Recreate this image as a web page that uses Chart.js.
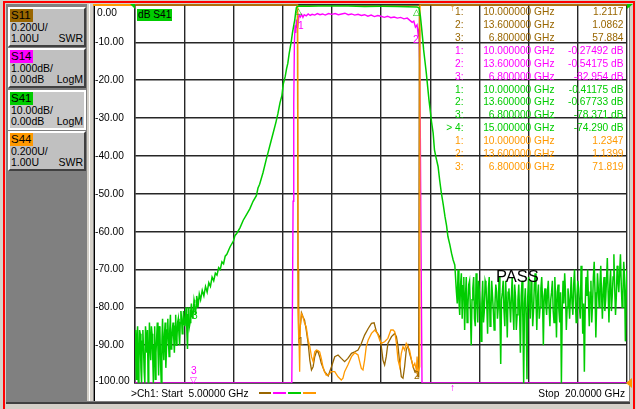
<!DOCTYPE html>
<html>
<head>
<meta charset="utf-8">
<script src="https://cdn.jsdelivr.net/npm/chart.js@4.4.1/dist/chart.umd.min.js"></script>
<style>
  html, body { margin: 0; padding: 0; }
  html { overflow: hidden; background: #d4d0c8; }
  body { width: 636px; height: 409px; overflow: hidden; position: relative; background: #d4d0c8;
         font-family: "Liberation Sans", Arial, sans-serif; font-size: 10.2px; color: #000; }
  .abs { position: absolute; }
  .red { position: absolute; background: #ff0000; }
  #panel { left: 6px; top: 4px; width: 81px; height: 397px; background: #808080; }
  .btn { position: absolute; left: 2px; width: 78px; height: 40px; box-sizing: border-box; background: #c0c0c0;
         border-top: 2px solid #ffffff; border-left: 2px solid #ffffff; border-right: 2px solid #404040; border-bottom: 2px solid #404040; }
  .btn.active { border: 2px solid #ffffff; background: #c8c8c8; }
  .badge { position: absolute; left: 0; top: 0; width: 23px; height: 13px; font-size: 11.5px; line-height: 13px; text-indent: 1px; }
  .l2 { position: absolute; left: 1px; top: 12px; font-size: 10.5px; line-height: 12px; }
  .l3 { position: absolute; left: 1px; top: 23px; font-size: 10.5px; line-height: 12px; }
  .fmt { position: absolute; right: 1px; top: 23px; font-size: 10.5px; line-height: 12px; }
  #plotbg { left: 95px; top: 4px; width: 534px; height: 397px; background: #ffffff; }
  #wrap { left: 93px; top: 0px; width: 543px; height: 402px; }
  .txt { position: absolute; white-space: pre; line-height: 12px; }
</style>
</head>
<body>
<div class="red" style="left:3px;top:1px;width:632px;height:2px"></div>
<div class="red" style="left:3px;top:1px;width:2px;height:408px"></div>
<div class="red" style="left:633px;top:1px;width:2px;height:408px"></div>
<div id="panel" class="abs">
  <div class="btn" style="top:3px"><div class="badge" style="background:#996600">S11</div><div class="l2">0.200U/</div><div class="l3">1.00U</div><div class="fmt">SWR</div></div>
  <div class="btn" style="top:44px"><div class="badge" style="background:#ff00ff">S14</div><div class="l2">1.000dB/</div><div class="l3">0.00dB</div><div class="fmt">LogM</div></div>
  <div class="btn active" style="top:86px"><div class="badge" style="background:#00cc00">S41</div><div class="l2">10.00dB/</div><div class="l3">0.00dB</div><div class="fmt">LogM</div></div>
  <div class="btn" style="top:127px"><div class="badge" style="background:#ff9900">S44</div><div class="l2">0.200U/</div><div class="l3">1.00U</div><div class="fmt">SWR</div></div>
</div>
<div class="abs" style="left:89px;top:4px;width:1px;height:398px;background:#ffffff"></div>
<div class="abs" style="left:93px;top:4px;width:1px;height:398px;background:#808080"></div>
<div class="abs" style="left:94px;top:4px;width:1px;height:398px;background:#000000"></div>
<div id="plotbg" class="abs"></div>
<div class="abs" style="left:629px;top:4px;width:1px;height:398px;background:#808080"></div>
<div class="abs" style="left:6px;top:401px;width:624px;height:1px;background:#808080"></div>
<div class="abs" style="left:6px;top:402px;width:624px;height:2px;background:#404040"></div>
<div class="abs" style="left:5px;top:404px;width:628px;height:5px;background:#d4d0c8;z-index:5"></div>
<div class="abs" style="left:93px;top:4px;width:536px;height:1.5px;background:#ff9900"></div>
<div id="wrap" class="abs"><canvas id="vna" width="543" height="402"></canvas></div>
<div id="overlay"></div>

<script>
// sweep and graticule
var xGridGHz = [5, 6.5, 8, 9.5, 11, 12.5, 14, 15.5, 17, 18.5, 20];
var yTickValues = [0, -10, -20, -30, -40, -50, -60, -70, -80, -90, -100];
var yTickLabels = ['0.00', '-10.00', '-20.00', '-30.00', '-40.00', '-50.00', '-60.00', '-70.00', '-80.00', '-90.00', '-100.00'];

// S41, dB (10 dB/div, ref 0 dB at top)
var s41Trace = [
  [5.00,-86],[5.02,-92],[5.04,-99],[5.06,-88],[5.08,-85],[5.10,-100],[5.12,-95],[5.14,-86],[5.16,-87],[5.18,-96],
  [5.20,-100],[5.22,-89],[5.24,-86],[5.26,-91],[5.28,-97],[5.30,-100],[5.32,-85],[5.34,-88],[5.36,-92],[5.38,-86],
  [5.40,-100],[5.42,-95],[5.44,-84],[5.46,-89],[5.48,-94],[5.50,-85],[5.52,-87],[5.54,-93],[5.56,-100],[5.58,-90],
  [5.60,-85],[5.62,-99],[5.64,-92],[5.66,-88],[5.68,-84],[5.70,-91],[5.72,-98],[5.74,-85],[5.76,-86],[5.78,-95],
  [5.80,-100],[5.82,-89],[5.84,-83],[5.86,-91],[5.88,-94],[5.90,-87],[5.92,-84],[5.94,-96],[5.96,-91],[5.98,-86],
  [6.00,-83],[6.02,-89],[6.04,-93],[6.06,-86],[6.08,-82],[6.10,-91],[6.12,-89],[6.14,-86],[6.16,-84],[6.18,-88],
  [6.20,-92],[6.22,-85],[6.24,-82],[6.26,-90],[6.28,-88],[6.30,-84],[6.32,-83],[6.34,-87],[6.36,-90],[6.38,-84],
  [6.40,-81],[6.42,-83],[6.44,-87],[6.46,-85],[6.48,-81],[6.50,-84],[6.52,-85],[6.54,-83],[6.56,-80],[6.58,-86],
  [6.60,-91],[6.62,-82],[6.64,-80],[6.66,-85],[6.68,-84],[6.70,-81],[6.72,-79],[6.74,-82],[6.76,-83],[6.78,-81],
  [6.80,-78],[6.82,-79],[6.84,-82],[6.86,-80],[6.88,-77],[6.90,-78],[6.92,-80],
  [6.96,-76.5],[7.00,-78],[7.05,-75.5],[7.10,-77],[7.15,-74.5],[7.20,-76],[7.25,-73.5],[7.30,-74.5],[7.35,-72],
  [7.40,-73],[7.45,-71],[7.50,-71.5],[7.55,-69.5],[7.60,-70],[7.65,-68],[7.70,-68.5],[7.75,-66.5],[7.80,-66],
  [7.85,-65],[7.90,-64],[8.00,-62.5],[8.05,-61],[8.10,-60.5],[8.20,-59],[8.30,-57],[8.40,-55.5],[8.50,-54],
  [8.60,-52],[8.70,-50.5],[8.75,-48.5],[8.80,-47.5],[8.90,-44.5],[9.00,-41],[9.06,-39],[9.15,-36],[9.21,-34],
  [9.30,-31],[9.36,-28.7],[9.42,-26],[9.48,-24],[9.52,-21],[9.58,-19],[9.62,-17],[9.66,-15.5],[9.70,-13],
  [9.74,-11],[9.77,-9.4],[9.80,-7.5],[9.84,-5.5],[9.87,-4.1],[9.90,-2],[9.92,-0.8],[9.95,-0.5],
  [10.00,-0.41],[10.30,-0.45],[10.60,-0.4],[11.00,-0.38],[11.50,-0.42],[12.00,-0.5],[12.50,-0.48],[13.00,-0.55],
  [13.30,-0.6],[13.60,-0.68],[13.66,-0.9],
  [13.70,-3],[13.73,-5.5],[13.77,-9],[13.80,-12],[13.84,-15],[13.88,-18],[13.92,-21.5],[13.96,-25],[14.00,-28],
  [14.04,-31],[14.09,-34],[14.13,-38.4],[14.18,-40.5],[14.24,-42.8],[14.29,-46.5],[14.34,-49.8],[14.40,-53],
  [14.45,-56],[14.50,-58.5],[14.54,-61.3],[14.60,-63.5],[14.65,-65.7],[14.70,-67.5],[14.75,-68.8],
  [14.800,-76],[14.825,-79],[14.850,-70],[14.875,-78],[14.900,-82],[14.925,-74],[14.950,-71],[14.975,-83],
  [15.000,-74.3],[15.025,-72],[15.050,-86],[15.075,-77],[15.100,-72],[15.125,-84],[15.150,-80],[15.175,-74],
  [15.200,-73],[15.225,-81],[15.250,-90],[15.275,-78],[15.300,-75],[15.325,-72],[15.350,-83],[15.375,-85],
  [15.400,-71],[15.425,-77],[15.450,-84],[15.475,-73],[15.500,-76],[15.525,-80],[15.550,-89],[15.575,-79],
  [15.600,-73],[15.625,-84],[15.650,-81],[15.675,-73],[15.700,-74],[15.725,-79],[15.750,-87],[15.775,-75],
  [15.800,-72],[15.825,-85],[15.850,-82],[15.875,-73],[15.900,-77],[15.925,-81],[15.950,-86],[15.975,-79],
  [16.000,-74],[16.025,-76],[16.050,-83],[16.075,-80],[16.100,-72],[16.125,-81],[16.150,-95],[16.175,-78],
  [16.200,-76],[16.225,-73],[16.250,-81],[16.275,-85],[16.300,-73],[16.325,-79],[16.350,-88],[16.375,-76],
  [16.400,-75],[16.425,-79],[16.450,-84],[16.475,-77],[16.500,-72],[16.525,-81],[16.550,-86],[16.575,-74],
  [16.600,-77],[16.625,-86],[16.650,-82],[16.675,-78],[16.700,-74],[16.725,-81],[16.750,-92],[16.775,-77],
  [16.800,-73],[16.825,-83],[16.850,-100],[16.875,-79],[16.900,-75],[16.925,-82],[16.950,-99],[16.975,-77],
  [17.000,-72],[17.025,-79],[17.050,-83],[17.075,-73],[17.100,-76],[17.125,-85],[17.150,-81],[17.175,-74],
  [17.200,-71],[17.225,-78],[17.250,-86],[17.275,-77],[17.300,-74],[17.325,-83],[17.350,-80],[17.375,-75],
  [17.400,-72],[17.425,-78],[17.450,-90],[17.475,-77],[17.500,-75],[17.525,-79],[17.550,-82],[17.575,-76],
  [17.600,-73],[17.625,-80],[17.650,-85],[17.675,-78],[17.700,-76],[17.725,-73],[17.750,-81],[17.775,-84],
  [17.800,-72],[17.825,-78],[17.850,-88],[17.875,-76],[17.900,-74],[17.925,-81],[17.950,-84],[17.975,-76],
  [18.000,-100],[18.025,-81],[18.050,-73],[18.075,-79],[18.100,-71],[18.125,-76],[18.150,-86],[18.175,-80],
  [18.200,-75],[18.225,-78],[18.250,-83],[18.275,-77],[18.300,-72],[18.325,-79],[18.350,-82],[18.375,-74],
  [18.400,-70],[18.425,-78],[18.450,-84],[18.475,-77],[18.500,-73],[18.525,-75],[18.550,-80],[18.575,-83],
  [18.600,-69],[18.625,-75],[18.650,-87],[18.675,-79],[18.700,-97],[18.725,-80],[18.750,-72],[18.775,-77],
  [18.800,-70],[18.825,-78],[18.850,-85],[18.875,-76],[18.900,-73],[18.925,-84],[18.950,-79],[18.975,-72],
  [19.000,-68],[19.025,-76],[19.050,-88],[19.075,-79],[19.100,-71],[19.125,-75],[19.150,-80],[19.175,-74],
  [19.200,-69],[19.225,-77],[19.250,-83],[19.275,-75],[19.300,-72],[19.325,-81],[19.350,-78],[19.375,-73],
  [19.400,-67],[19.425,-76],[19.450,-84],[19.475,-74],[19.500,-70],[19.525,-81],[19.550,-77],[19.575,-72],
  [19.600,-66],[19.625,-75],[19.650,-82],[19.675,-77],[19.700,-69],[19.725,-73],[19.750,-76],[19.775,-71],
  [19.800,-66],[19.825,-74],[19.850,-80],[19.875,-77],[19.900,-68],[19.925,-72],[19.950,-89],[19.975,-76],
  [20.000,-70]
];

// S14, dB (1 dB/div, ref 0 dB at top, shown clipped at the bottom edge)
var s14Trace = [
  [5.00,-10],[9.78,-10],[9.80,-7.9],[9.82,-5.2],[9.84,-2.6],[9.86,-1.0],[9.88,-0.55],[9.90,-0.75],[9.92,-0.4],
  [9.94,-0.6],[9.96,-0.32],[9.98,-0.45],[10.00,-0.27],[10.04,-0.33],[10.08,-0.26],[10.12,-0.34],[10.16,-0.27],
  [10.22,-0.3],[10.28,-0.25],[10.34,-0.29],[10.40,-0.26],[10.48,-0.28],[10.56,-0.24],[10.64,-0.27],[10.72,-0.25],
  [10.80,-0.28],[10.90,-0.24],[11.00,-0.26],[11.10,-0.24],[11.20,-0.27],[11.30,-0.25],[11.40,-0.23],[11.50,-0.27],
  [11.60,-0.25],[11.70,-0.28],[11.80,-0.26],[11.90,-0.29],[12.00,-0.27],[12.10,-0.31],[12.20,-0.28],[12.30,-0.32],
  [12.40,-0.29],[12.50,-0.31],[12.60,-0.34],[12.70,-0.31],[12.80,-0.35],[12.90,-0.33],[13.00,-0.36],[13.10,-0.34],
  [13.20,-0.38],[13.30,-0.36],[13.38,-0.42],[13.45,-0.47],[13.50,-0.44],[13.55,-0.6],[13.60,-0.54],[13.63,-0.78],
  [13.66,-0.66],[13.68,-1.6],[13.70,-3.6],[13.72,-6.4],[13.75,-10],[20.00,-10]
];

// S11, SWR (0.2 U/div, ref 1.00 U at bottom, shown clipped at the top edge)
var s11Trace = [
  [5.00,3],[9.95,3],[9.97,1.6],[9.99,1.25],[10.00,1.21],[10.04,1.30],[10.08,1.37],[10.12,1.35],[10.17,1.332],
  [10.22,1.28],[10.28,1.209],[10.33,1.121],[10.38,1.069],[10.43,1.086],[10.48,1.139],[10.53,1.165],[10.58,1.165],
  [10.63,1.139],[10.68,1.104],[10.78,1.06],[10.89,1.037],[10.99,1.086],[11.09,1.139],[11.19,1.148],[11.29,1.13],
  [11.39,1.113],[11.49,1.13],[11.60,1.157],[11.70,1.165],[11.80,1.174],[11.90,1.209],[12.00,1.253],[12.11,1.288],
  [12.21,1.315],[12.29,1.318],[12.36,1.271],[12.46,1.245],[12.51,1.192],[12.56,1.121],[12.61,1.095],[12.66,1.139],
  [12.71,1.209],[12.82,1.245],[12.92,1.262],[12.97,1.245],[13.02,1.192],[13.07,1.104],[13.12,1.033],[13.17,1.025],
  [13.22,1.086],[13.27,1.174],[13.32,1.2],[13.37,1.157],[13.43,1.121],[13.48,1.086],[13.53,1.06],[13.58,1.069],
  [13.63,1.033],[13.65,1.15],[13.67,3],[20.00,3]
];

// S44, SWR (0.2 U/div, ref 1.00 U at bottom)
var s44Trace = [
  [5.00,3],[9.96,3],[9.97,1.39],[9.99,1.24],[10.00,1.23],[10.02,1.06],[10.04,1.30],[10.07,1.368],[10.12,1.35],
  [10.17,1.315],[10.22,1.297],[10.28,1.227],[10.33,1.192],[10.38,1.139],[10.43,1.113],[10.48,1.165],[10.53,1.174],
  [10.58,1.171],[10.63,1.165],[10.68,1.13],[10.73,1.086],[10.78,1.06],[10.83,1.042],[10.89,1.042],[10.99,1.06],
  [11.09,1.06],[11.19,1.033],[11.29,1.016],[11.34,1.025],[11.39,1.06],[11.49,1.095],[11.60,1.139],[11.70,1.16],
  [11.80,1.148],[11.90,1.077],[11.95,1.069],[12.00,1.121],[12.05,1.192],[12.11,1.227],[12.21,1.262],[12.31,1.28],
  [12.39,1.262],[12.46,1.227],[12.51,1.209],[12.61,1.218],[12.71,1.236],[12.80,1.28],[12.87,1.28],[12.92,1.271],
  [12.97,1.209],[13.02,1.121],[13.07,1.086],[13.12,1.157],[13.17,1.192],[13.22,1.174],[13.27,1.209],[13.32,1.192],
  [13.37,1.174],[13.43,1.121],[13.48,1.086],[13.53,1.104],[13.58,1.069],[13.60,1.14],[13.63,1.051],[13.68,1.086],
  [13.69,3],[20.00,3]
];

// marker readout table
var markerNum = ['1:', '2:', '3:', '1:', '2:', '3:', '1:', '2:', '3:', '> 4:', '1:', '2:', '3:'];
var markerFreq = ['10.000000 GHz', '13.600000 GHz', '6.800000 GHz', '10.000000 GHz', '13.600000 GHz', '6.800000 GHz',
  '10.000000 GHz', '13.600000 GHz', '6.800000 GHz', '15.000000 GHz', '10.000000 GHz', '13.600000 GHz', '6.800000 GHz'];
var markerVal = ['1.2117', '1.0862', '57.884', '-0.27492 dB', '-0.54175 dB', '-82.954 dB',
  '-0.41175 dB', '-0.67733 dB', '-78.371 dB', '-74.290 dB', '1.2347', '1.1399', '71.819'];
var markerTrace = ['S11', 'S11', 'S11', 'S14', 'S14', 'S14', 'S41', 'S41', 'S41', 'S41', 'S44', 'S44', 'S44'];

var traceColor = { S11: '#996600', S14: '#ff00ff', S41: '#00cc00', S44: '#ff9900' };

function toPoints(arr) {
    return arr.map(function (p) { return { x: p[0], y: p[1] }; });
}

function traceSet(name, data, axis, order, width) {
    return {
        label: name,
        data: toPoints(data),
        yAxisID: axis,
        borderColor: traceColor[name],
        borderWidth: width,
        pointRadius: 0,
        tension: 0,
        fill: false,
        order: order
    };
}

var gridColor = '#262626';

var ctx = document.getElementById('vna').getContext('2d');
var chart = new Chart(ctx, {
    type: 'line',
    data: {
        datasets: [
            traceSet('S41', s41Trace, 'y', 1, 1.5),
            traceSet('S44', s44Trace, 'ySwr', 2, 1.3),
            traceSet('S11', s11Trace, 'ySwr', 3, 1.3),
            traceSet('S14', s14Trace, 'yS14', 4, 1.4)
        ]
    },
    options: {
        responsive: false,
        animation: false,
        events: [],
        layout: { padding: { left: 0, right: 9, top: 4.5, bottom: 19 } },
        plugins: { legend: { display: false }, tooltip: { enabled: false } },
        scales: {
            x: {
                type: 'linear', min: 5, max: 20,
                afterBuildTicks: function (s) { s.ticks = xGridGHz.map(function (v) { return { value: v }; }); },
                afterFit: function (s) { s.height = 0; },
                ticks: { display: false },
                grid: { color: gridColor, lineWidth: 1.4, drawTicks: false },
                border: { color: gridColor, width: 1.4 }
            },
            y: {
                type: 'linear', min: -100, max: 0,
                afterBuildTicks: function (s) { s.ticks = yTickValues.map(function (v) { return { value: v }; }); },
                afterFit: function (s) { s.width = 42; },
                ticks: { display: false },
                grid: { color: gridColor, lineWidth: 1.4, drawTicks: false },
                border: { color: gridColor, width: 1.4 }
            },
            yS14: { type: 'linear', display: false, min: -10, max: 0 },
            ySwr: { type: 'linear', display: false, min: 1, max: 3 }
        }
    }
});

// texts laid over the page
var overlay = document.getElementById('overlay');
function addText(str, style) {
    var d = document.createElement('div');
    d.className = 'txt';
    d.textContent = str;
    for (var k in style) d.style[k] = style[k];
    overlay.appendChild(d);
    return d;
}

// y labels placed from the S41 scale
var yScale = chart.scales.y;
yTickValues.forEach(function (v, i) {
    var py = yScale.getPixelForValue(v);
    py = Math.min(Math.max(py, 12.5), 381);
    var lx = yTickLabels[i].charAt(0) === '-' ? 95 : 97;
    addText(yTickLabels[i], { left: lx + 'px', top: (py - 6) + 'px' });
});

// marker table
for (var i = 0; i < markerNum.length; i++) {
    var rowTop = 6 + i * 12.92;
    var c = traceColor[markerTrace[i]];
    addText(markerNum[i], { right: (636 - 463.5) + 'px', top: rowTop + 'px', color: c });
    addText(markerFreq[i], { right: (636 - 554.5) + 'px', top: rowTop + 'px', color: c });
    addText(markerVal[i], { right: (636 - 623.5) + 'px', top: rowTop + 'px', color: c });
}

// trace title, bottom line, pass text
addText('dB S41', { left: '137px', top: '9px', width: '35px', height: '12px', background: '#00cc00', textIndent: '1px' });
addText('>Ch1: Start  5.00000 GHz', { left: '131px', top: '387.5px' });
addText('Stop  20.0000 GHz', { right: (636 - 625) + 'px', top: '388px' });
addText('PASS', { left: '496px', top: '267px', fontSize: '16.5px', lineHeight: '18px' });

var legendOrder = ['S11', 'S14', 'S41', 'S44'];
legendOrder.forEach(function (n, i) {
    var d = document.createElement('div');
    d.className = 'abs';
    d.style.left = (258.5 + i * 14.9) + 'px';
    d.style.top = '392px';
    d.style.width = '12.5px';
    d.style.height = '2px';
    d.style.background = traceColor[n];
    overlay.appendChild(d);
});

// marker symbols
addText('3', { left: '191px', top: '365px', color: '#ff00ff' });
addText('\u25BD', { left: '189.5px', top: '374px', color: '#ff00ff', fontSize: '9px' });
addText('3', { left: '192px', top: '310px', color: '#00cc00' });
addText('\u25B3', { left: '295px', top: '5px', color: '#00cc00', fontSize: '9px' });
addText('\u25B3', { left: '413px', top: '6px', color: '#00cc00', fontSize: '9px' });
addText('1', { left: '298px', top: '20px', color: '#ff00ff' });
addText('2', { left: '413px', top: '34px', color: '#ff00ff' });
addText('1', { left: '298px', top: '336px', color: '#996600' });
addText('2', { left: '414px', top: '370px', color: '#996600' });
addText('\u2191', { left: '450px', top: '382px', color: '#ff00ff' });
addText('\u2191', { left: '450px', top: '2px', color: '#cc7a00' });

// reference position arrows
function tri(style) {
    var d = document.createElement('div');
    d.className = 'abs';
    d.style.width = '0';
    d.style.height = '0';
    for (var k in style) d.style[k] = style[k];
    overlay.appendChild(d);
}
tri({ left: '130px', top: '4px', borderLeft: '5px solid transparent', borderTop: '5px solid #00cc00' });
tri({ left: '627px', top: '4px', borderRight: '6px solid transparent', borderTop: '5px solid #00cc00' });
tri({ left: '626px', top: '378px', borderRight: '6px solid #ff9900', borderTop: '5px solid transparent', borderBottom: '5px solid transparent' });
</script>
</body>
</html>
